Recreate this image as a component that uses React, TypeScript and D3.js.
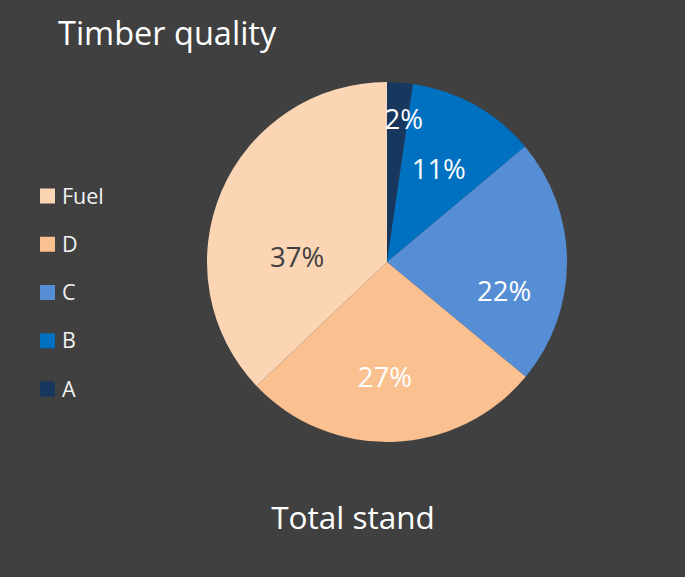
import React, { useEffect, useRef } from "react";
import * as d3 from "d3";

// slices in drawing order: clockwise from 12 o'clock
const categories = ["A", "B", "C", "D", "Fuel"];
const shares = [2.3, 11.6, 22.1, 26.9, 37.1];
const labels = ["2%", "11%", "22%", "27%", "37%"];
const colors = ["#17375E", "#0070C0", "#558ED5", "#FAC090", "#FCD5B5"];
const labelColors = ["#ffffff", "#ffffff", "#ffffff", "#ffffff", "#404040"];
// legend runs bottom-up relative to the slice order
const legendOrder = ["Fuel", "D", "C", "B", "A"];
// where Excel put the labels: fraction of radius, nudge in degrees
const labelRadius = [0.8, 0.59, 0.67, 0.64, 0.5];
const labelNudge = [2.5, 0, 14, 3, -20];

const W = 685;
const H = 577;

const App = () => {
  const ref = useRef<SVGSVGElement | null>(null);

  useEffect(() => {
    const svg = d3.select(ref.current!);
    svg.selectAll("*").remove();

    const font = "'Open Sans', 'Noto Sans', sans-serif";
    const cx = 387;
    const cy = 262;
    const r = 180;

    svg.append("rect").attr("width", W).attr("height", H).attr("fill", "#404040");

    svg.append("text")
      .attr("x", 58).attr("y", 45)
      .attr("font-family", font).attr("font-size", 32.5)
      .attr("fill", "#ffffff")
      .text("Timber quality");

    svg.append("text")
      .attr("x", 353).attr("y", 529)
      .attr("text-anchor", "middle")
      .attr("font-family", font).attr("font-size", 31.5)
      .attr("fill", "#ffffff")
      .text("Total stand");

    const pie = d3.pie<number>().sort(null).value(d => d);
    const arcs = pie(shares);
    const arc = d3.arc<d3.PieArcDatum<number>>().innerRadius(0).outerRadius(r);

    const g = svg.append("g").attr("transform", `translate(${cx},${cy})`);
    g.selectAll("path.slice")
      .data(arcs)
      .join("path")
      .attr("class", "slice")
      .attr("d", arc)
      .attr("fill", (_, i) => colors[i]);

    g.selectAll("text.lbl")
      .data(arcs)
      .join("text")
      .attr("class", "lbl")
      .attr("transform", (d, i) => {
        const a = (d.startAngle + d.endAngle) / 2 + (labelNudge[i] * Math.PI) / 180;
        const rr = r * labelRadius[i];
        return `translate(${rr * Math.sin(a)},${-rr * Math.cos(a)})`;
      })
      .attr("text-anchor", "middle")
      .attr("dy", "0.36em")
      .attr("font-family", font).attr("font-size", 27.5)
      .attr("fill", (_, i) => labelColors[i])
      .text((_, i) => labels[i]);

    const ly = d3.scalePoint<string>().domain(legendOrder).range([196, 389]);
    const leg = svg.append("g");
    const items = leg.selectAll("g")
      .data(legendOrder)
      .join("g")
      .attr("transform", d => `translate(40,${ly(d)})`);
    items.append("rect")
      .attr("x", 0).attr("y", -7.5)
      .attr("width", 15).attr("height", 15)
      .attr("fill", d => colors[categories.indexOf(d)]);
    items.append("text")
      .attr("x", 22).attr("y", 7.5)
      .attr("font-family", font).attr("font-size", 21.5)
      .attr("fill", "#f2f2f2")
      .text(d => d);
  }, []);

  return (
    <svg
      ref={ref}
      width={W}
      height={H}
      style={{ position: "absolute", left: 0, top: 0, display: "block" }}
    />
  );
};

export default App;
